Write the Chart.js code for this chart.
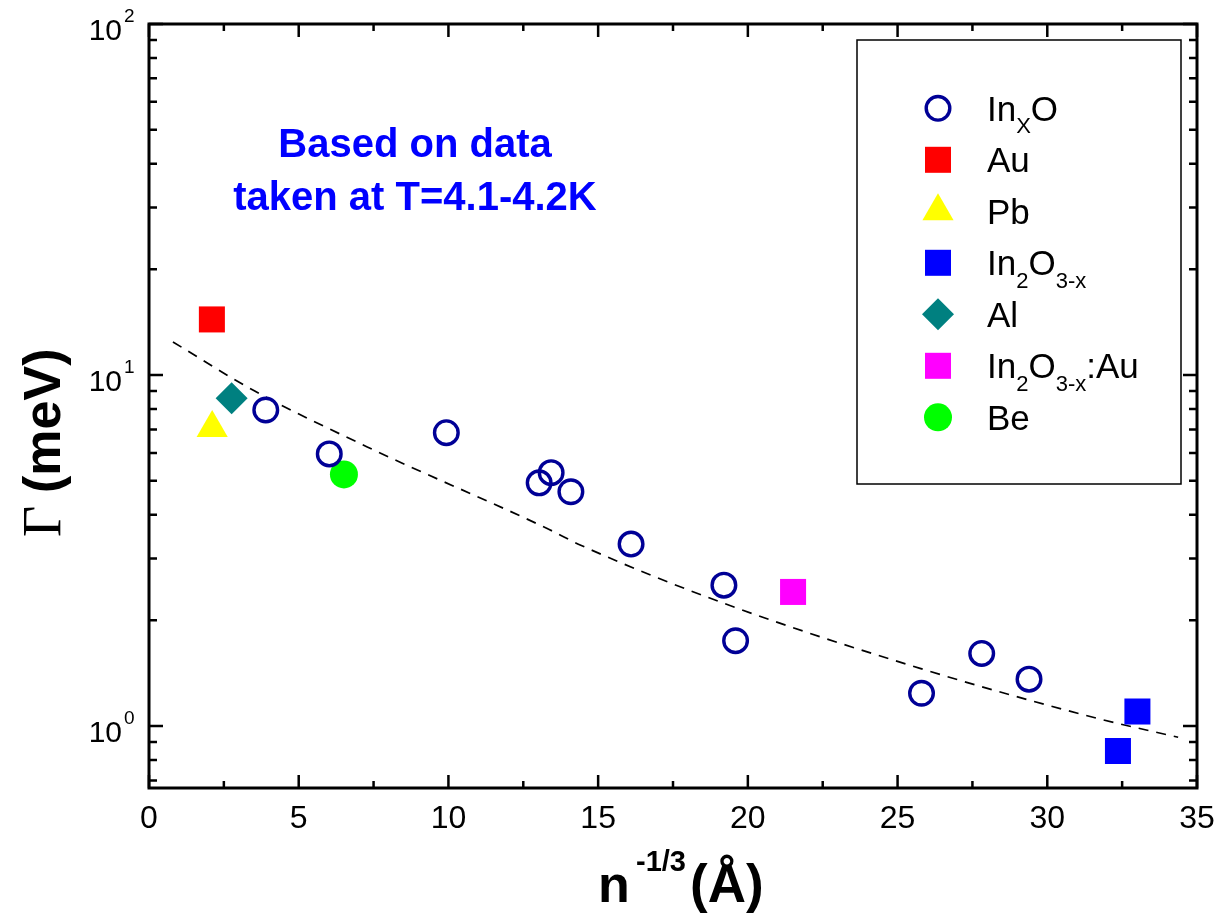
<!DOCTYPE html>
<html>
<head>
<meta charset="utf-8">
<script src="https://cdn.jsdelivr.net/npm/chart.js@4.4.1/dist/chart.umd.min.js"></script>
<style>
  html, body { margin: 0; padding: 0; background: #fff; }
  canvas { display: block; }
</style>
</head>
<body>
<canvas id="chart" width="1232" height="913"></canvas>
<script>
// values (x = n^-1/3 in Å, y = Γ in meV)
const inxoX = [3.90, 6.02, 9.93, 13.03, 13.43, 14.09, 16.10, 19.20, 19.59, 25.80, 27.81, 29.39];
const inxoY = [7.95, 5.96, 6.85, 4.93, 5.27, 4.65, 3.30, 2.52, 1.75, 1.24, 1.61, 1.36];
const auX = [2.10];
const auY = [14.4];
const pbX = [2.11];
const pbY = [7.06];
const in2o3X = [32.36, 33.01];
const in2o3Y = [0.849, 1.10];
const alX = [2.76];
const alY = [8.58];
const in2o3AuX = [21.51];
const in2o3AuY = [2.41];
const beX = [6.51];
const beY = [5.21];

// dashed guide curve, read at a few spots along it
const fitX = [0.80, 3.47, 7.27, 13.28, 14.40, 19.18, 25.75, 31.76, 34.37];
const fitY = [12.42, 9.06, 6.25, 3.66, 3.28, 2.24, 1.46, 1.047, 0.929];

// axes
const xMajorTicks = [0, 5, 10, 15, 20, 25, 30, 35];
const xMinorTicks = [2.5, 7.5, 12.5, 17.5, 22.5, 27.5, 32.5];
const yMajorTicks = [1, 10, 100];
const yTickLabels = [['10', '0'], ['10', '1'], ['10', '2']];
const yMinorTicks = [0.7, 0.8, 0.9, 2, 3, 4, 5, 6, 7, 8, 9, 20, 30, 40, 50, 60, 70, 80, 90];

// legend text: [text, isSubscript]
const legendLabels = [
  [['In', 0], ['X', 1], ['O', 0]],
  [['Au', 0]],
  [['Pb', 0]],
  [['In', 0], ['2', 1], ['O', 0], ['3-x', 1]],
  [['Al', 0]],
  [['In', 0], ['2', 1], ['O', 0], ['3-x', 1], [':Au', 0]],
  [['Be', 0]]
];
const noteLines = ['Based on data', 'taken at T=4.1-4.2K'];

const pts = (xs, ys) => xs.map((x, i) => ({ x: x, y: ys[i] }));
const SANS = 'Arial, "Liberation Sans", Helvetica, sans-serif';

function marker(style, color, r, filled, bw) {
  return {
    pointStyle: style,
    pointRadius: r,
    pointHoverRadius: r,
    backgroundColor: filled ? color : 'rgba(0,0,0,0)',
    borderColor: color,
    pointBorderWidth: bw || 0,
    pointHoverBorderWidth: bw || 0,
    showLine: false
  };
}

const datasets = [
  Object.assign({ label: 'InxO', data: pts(inxoX, inxoY) }, marker('circle', '#000096', 11.8, false, 3.4)),
  Object.assign({ label: 'Au', data: pts(auX, auY) }, marker('rect', '#ff0000', 18.4, true)),
  Object.assign({ label: 'Pb', data: pts(pbX, pbY) }, marker('triangle', '#ffff00', 18, true)),
  Object.assign({ label: 'In2O3-x', data: pts(in2o3X, in2o3Y) }, marker('rect', '#0000ff', 18.4, true)),
  Object.assign({ label: 'Al', data: pts(alX, alY) }, marker('rectRot', '#008080', 16, true)),
  Object.assign({ label: 'In2O3-x:Au', data: pts(in2o3AuX, in2o3AuY) }, marker('rect', '#ff00ff', 18.4, true)),
  Object.assign({ label: 'Be', data: pts(beX, beY) }, marker('circle', '#00ff00', 14, true)),
  {
    label: 'fit',
    type: 'line',
    data: pts(fitX, fitY),
    borderColor: '#000',
    borderWidth: 1.7,
    borderDash: [10, 8],
    pointRadius: 0,
    fill: false,
    cubicInterpolationMode: 'monotone',
    order: 10
  }
];

function drawRich(ctx, parts, x, y, size, bold) {
  const w = bold ? 'bold ' : '';
  parts.forEach(p => {
    const sub = p[1] === 1;
    const fs = sub ? Math.round(size * 0.63) : size;
    ctx.font = w + fs + 'px ' + SANS;
    ctx.fillText(p[0], x, y + (sub ? size * 0.36 : 0));
    x += ctx.measureText(p[0]).width;
  });
  return x;
}

const decorations = {
  id: 'decorations',
  afterDraw(chart) {
    const ctx = chart.ctx;
    const a = chart.chartArea;
    const xs = chart.scales.x, ys = chart.scales.y;
    ctx.save();
    ctx.strokeStyle = '#000';
    ctx.fillStyle = '#000';

    // frame
    ctx.lineWidth = 3;
    ctx.strokeRect(a.left, a.top, a.right - a.left, a.bottom - a.top);

    // inward ticks on all four sides
    ctx.lineWidth = 2.5;
    ctx.beginPath();
    xMajorTicks.forEach(v => {
      const p = xs.getPixelForValue(v);
      ctx.moveTo(p, a.bottom); ctx.lineTo(p, a.bottom - 13);
      ctx.moveTo(p, a.top); ctx.lineTo(p, a.top + 13);
    });
    xMinorTicks.forEach(v => {
      const p = xs.getPixelForValue(v);
      ctx.moveTo(p, a.bottom); ctx.lineTo(p, a.bottom - 7);
      ctx.moveTo(p, a.top); ctx.lineTo(p, a.top + 7);
    });
    yMajorTicks.forEach(v => {
      const p = ys.getPixelForValue(v);
      ctx.moveTo(a.left, p); ctx.lineTo(a.left + 14, p);
      ctx.moveTo(a.right, p); ctx.lineTo(a.right - 14, p);
    });
    yMinorTicks.forEach(v => {
      const p = ys.getPixelForValue(v);
      ctx.moveTo(a.left, p); ctx.lineTo(a.left + 8, p);
      ctx.moveTo(a.right, p); ctx.lineTo(a.right - 8, p);
    });
    ctx.stroke();

    // y tick labels with exponents
    ctx.textAlign = 'left';
    ctx.textBaseline = 'alphabetic';
    yMajorTicks.forEach((v, i) => {
      const p = ys.getPixelForValue(v);
      const lab = yTickLabels[i];
      ctx.font = '30px ' + SANS;
      const w = ctx.measureText(lab[0]).width;
      ctx.fillText(lab[0], 122 - w, p + 16);
      ctx.font = '19px ' + SANS;
      ctx.fillText(lab[1], 124, p - 2);
    });

    // y title
    ctx.save();
    ctx.translate(60, 537);
    ctx.rotate(-Math.PI / 2);
    ctx.font = '54px "Liberation Serif", "Times New Roman", serif';
    ctx.fillText('\u0393', 0, 0);
    ctx.font = 'bold 52px ' + SANS;
    ctx.fillText('(meV)', 44, 0);
    ctx.restore();

    // x title
    ctx.font = 'bold 52px ' + SANS;
    ctx.fillText('n', 598, 902);
    ctx.font = 'bold 29px ' + SANS;
    ctx.fillText('-1/3', 636, 871);
    ctx.font = 'bold 53px ' + SANS;
    ctx.fillText('(\u00c5)', 690, 902);

    // note
    ctx.fillStyle = '#0000ff';
    ctx.font = 'bold 40px ' + SANS;
    ctx.textAlign = 'center';
    ctx.fillText(noteLines[0], 415, 157);
    ctx.fillText(noteLines[1], 415, 210);

    // legend box
    ctx.textAlign = 'left';
    ctx.lineWidth = 1.5;
    ctx.strokeStyle = '#000';
    ctx.strokeRect(857, 40, 324, 444);
    legendLabels.forEach((parts, i) => {
      const cy = 108.3 + i * 51.5;
      const ds = chart.data.datasets[i];
      ctx.fillStyle = ds.backgroundColor;
      ctx.strokeStyle = ds.borderColor;
      ctx.lineWidth = ds.pointBorderWidth || 1;
      Chart.helpers.drawPoint(ctx, {
        pointStyle: ds.pointStyle,
        radius: ds.pointRadius,
        borderWidth: ds.pointBorderWidth
      }, 938, cy);
      ctx.fillStyle = '#000';
      drawRich(ctx, parts, 987, cy + 12.4, 35, false);
    });
    ctx.restore();
  }
};

new Chart(document.getElementById('chart'), {
  type: 'scatter',
  data: { datasets: datasets },
  options: {
    responsive: false,
    animation: false,
    devicePixelRatio: 1,
    events: [],
    layout: { padding: { left: 0, top: 24, right: 35, bottom: 0 } },
    plugins: {
      legend: { display: false },
      tooltip: { enabled: false }
    },
    scales: {
      x: {
        type: 'linear',
        min: 0,
        max: 35,
        grid: { display: false, drawTicks: false },
        border: { display: false },
        ticks: {
          stepSize: 5,
          padding: 12,
          color: '#000',
          font: { size: 32, family: SANS }
        },
        afterFit(scale) {
          scale.height = 125;
          scale.paddingLeft = 0;
          scale.paddingRight = 0;
        }
      },
      y: {
        type: 'logarithmic',
        min: 0.666,
        max: 100,
        grid: { display: false, drawTicks: false },
        border: { display: false },
        ticks: { display: false },
        afterFit(scale) {
          scale.width = 149;
          scale.paddingTop = 0;
          scale.paddingBottom = 0;
        }
      }
    }
  },
  plugins: [decorations]
});
</script>
</body>
</html>
